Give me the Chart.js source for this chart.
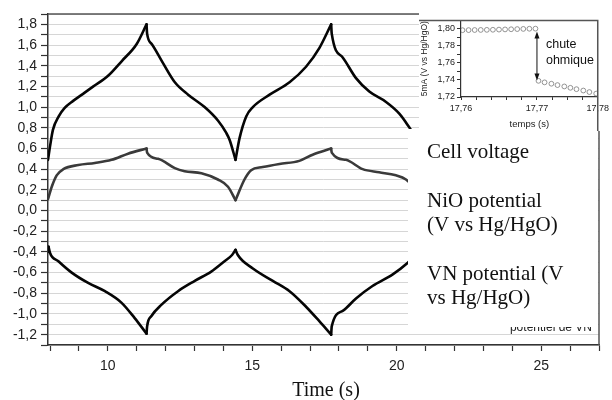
<!DOCTYPE html>
<html>
<head>
<meta charset="utf-8">
<script src="https://cdn.jsdelivr.net/npm/chart.js@4.4.1/dist/chart.umd.min.js"></script>
<style>
  body { margin: 0; background: #fff; }
  #wrap { position: relative; width: 612px; height: 400px; }
  #main { position: absolute; left: 0; top: 0; }
  #inset { position: absolute; left: 419px; top: 13px; }
</style>
</head>
<body>
<div id="wrap">
  <canvas id="main" width="612" height="400"></canvas>
  <canvas id="inset" width="193" height="118"></canvas>
</div>
<script>
// Main chart data
const cellTime = [7.93, 8.00, 8.10, 8.30, 8.50, 8.80, 9.20, 9.50, 10.00, 10.50, 11.00, 11.34,
    11.36, 11.52, 11.86, 12.32, 12.78, 13.35, 13.81, 14.10, 14.22, 14.42,
    14.56, 14.79, 15.02, 15.60, 16.29, 16.86, 17.32, 17.73,
    17.75, 18.13, 18.59, 19.05, 19.63, 20.08, 20.37, 20.60, 20.81];
const cellVoltage = [0.49, 0.62, 0.78, 0.91, 0.99, 1.06, 1.14, 1.20, 1.30, 1.45, 1.61, 1.80,
    1.71, 1.61, 1.45, 1.24, 1.12, 1.00, 0.87, 0.75, 0.68, 0.49,
    0.70, 0.91, 1.00, 1.12, 1.24, 1.39, 1.57, 1.80,
    1.71, 1.48, 1.28, 1.15, 1.05, 0.94, 0.83, 0.72, 0.49];

const nioTime = [7.93, 8.06, 8.23, 8.46, 8.98, 9.55, 10.13, 10.70, 11.34,
    11.36, 11.74, 12.32, 12.66, 13.24, 13.81, 14.16, 14.42,
    14.73, 14.96, 15.36, 15.94, 16.63, 17.09, 17.73,
    17.75, 18.24, 18.82, 19.39, 19.97, 20.32, 20.60, 20.81];
const nioPotential = [0.11, 0.23, 0.34, 0.40, 0.44, 0.46, 0.49, 0.55, 0.60,
    0.56, 0.50, 0.41, 0.38, 0.36, 0.30, 0.23, 0.10,
    0.30, 0.39, 0.42, 0.45, 0.48, 0.54, 0.60,
    0.56, 0.49, 0.40, 0.37, 0.34, 0.30, 0.22, 0.10];

const vnTime = [7.93, 7.95, 8.00, 8.29, 8.75, 9.32, 9.90, 10.47, 10.93, 11.34,
    11.36, 11.51, 11.86, 12.43, 13.01, 13.58, 14.04, 14.30, 14.42,
    14.50, 15.02, 15.71, 16.29, 16.86, 17.32, 17.73,
    17.75, 18.13, 18.59, 19.16, 19.85, 20.32, 20.81];
const vnPotential = [-0.40, -0.35, -0.41, -0.49, -0.60, -0.70, -0.78, -0.89, -1.04, -1.19,
    -1.12, -1.02, -0.91, -0.78, -0.68, -0.59, -0.49, -0.43, -0.38,
    -0.43, -0.56, -0.68, -0.78, -0.93, -1.07, -1.20,
    -1.12, -0.97, -0.85, -0.73, -0.62, -0.52, -0.38];

const xTickValues = [8, 9, 10, 11, 12, 13, 14, 15, 16, 17, 18, 19, 20, 21, 22, 23, 24, 25, 26, 27];

const legendLines = [
    ['Cell voltage', 158],
    ['NiO potential', 207],
    ['(V vs Hg/HgO)', 231],
    ['VN potential (V', 280],
    ['vs Hg/HgO)', 304]
];

// Inset data
const insetTime = [17.7602, 17.7610, 17.7618, 17.7626, 17.7634, 17.7642, 17.7650, 17.7658,
    17.7666, 17.7674, 17.7682, 17.7690, 17.7698,
    17.7702, 17.7710, 17.7719, 17.7727, 17.7736, 17.7744, 17.7752, 17.7761, 17.7769, 17.7778];
const insetPotential = [1.7985, 1.7986, 1.7987, 1.7988, 1.7989, 1.7990, 1.7992, 1.7994,
    1.7996, 1.7998, 1.8000, 1.8002, 1.8003,
    1.7390, 1.7372, 1.7356, 1.7340, 1.7324, 1.7308, 1.7292, 1.7276, 1.7258, 1.7240];
const insetXTicks = [17.76, 17.762, 17.764, 17.766, 17.768, 17.77, 17.772, 17.774, 17.776, 17.778];
const insetXLabels = ['17,76', '', '', '', '', '17,77', '', '', '', '17,78'];
const insetYTicks = [1.72, 1.73, 1.74, 1.75, 1.76, 1.77, 1.78, 1.79, 1.80];
const insetYLabels = ['1,72', '', '1,74', '', '1,76', '', '1,78', '', '1,80'];

Chart.defaults.font.family = '"Liberation Sans", Arial, sans-serif';

function pts(xs, ys) {
    return xs.map((x, i) => ({ x: x, y: ys[i] }));
}

// cut a series into monotonic runs so the cusps at charge/discharge switches stay sharp
function runs(xs, ys) {
    const out = [];
    let cur = [{ x: xs[0], y: ys[0] }];
    let dir = 0;
    for (let i = 1; i < xs.length; i++) {
        const d = Math.sign(ys[i] - ys[i - 1]);
        if (dir !== 0 && d !== 0 && d !== dir) {
            out.push(cur);
            cur = [{ x: xs[i - 1], y: ys[i - 1] }];
        }
        if (d !== 0) dir = d;
        cur.push({ x: xs[i], y: ys[i] });
    }
    out.push(cur);
    return out;
}

const lineStyle = {
    pointRadius: 0, borderWidth: 2.6, fill: false,
    cubicInterpolationMode: 'monotone', borderCapStyle: 'round', borderJoinStyle: 'round'
};

function seriesDatasets(label, xs, ys, color) {
    return runs(xs, ys).map(r => ({ label: label, data: r, borderColor: color, ...lineStyle }));
}

const mainDecor = {
    id: 'mainDecor',
    afterDraw(chart) {
        const ctx = chart.ctx;
        const a = chart.chartArea;
        ctx.save();
        // old label peeking out below the white legend box
        ctx.fillStyle = '#222';
        ctx.font = '12px "Liberation Sans", Arial';
        ctx.textAlign = 'right';
        ctx.textBaseline = 'alphabetic';
        ctx.fillText('potentiel de VN', 592, 331);
        ctx.fillStyle = '#fff';
        ctx.fillRect(408, 129, 190, 198);

        ctx.fillStyle = '#111';
        ctx.font = '21px "Liberation Serif", "Times New Roman", serif';
        ctx.textAlign = 'left';
        legendLines.forEach(l => ctx.fillText(l[0], 427, l[1]));

        // top and right frame
        ctx.strokeStyle = '#555';
        ctx.lineWidth = 1.5;
        ctx.beginPath();
        ctx.moveTo(a.left, a.top);
        ctx.lineTo(a.right, a.top);
        ctx.lineTo(a.right, a.bottom);
        ctx.stroke();

        ctx.fillStyle = '#111';
        ctx.font = '20px "Liberation Serif", "Times New Roman", serif';
        ctx.textAlign = 'center';
        ctx.fillText('Time (s)', 326, 396);
        ctx.restore();
    }
};

new Chart(document.getElementById('main'), {
    type: 'line',
    data: {
        datasets: [
            ...seriesDatasets('Cell voltage', cellTime, cellVoltage, '#050505'),
            ...seriesDatasets('NiO potential', nioTime, nioPotential, '#3a3a3a'),
            ...seriesDatasets('VN potential', vnTime, vnPotential, '#050505')
        ]
    },
    options: {
        responsive: false,
        animation: false,
        devicePixelRatio: 1,
        layout: { padding: { top: 14, right: 13, left: 0, bottom: 0 } },
        plugins: { legend: { display: false }, tooltip: { enabled: false } },
        scales: {
            x: {
                type: 'linear',
                min: 7.93,
                max: 27,
                afterFit: s => { s.height = 55; },
                afterBuildTicks: s => { s.ticks = xTickValues.map(v => ({ value: v })); },
                grid: { drawOnChartArea: false, tickLength: 6, tickColor: '#333', tickWidth: 1.2 },
                border: { color: '#333', width: 1.5 },
                ticks: {
                    autoSkip: false, maxRotation: 0, padding: 7, color: '#222',
                    font: { size: 14 },
                    callback: v => (v % 5 === 0 ? String(v) : '')
                }
            },
            y: {
                min: -1.3,
                max: 1.9,
                afterFit: s => { s.width = 48; },
                grid: { color: '#d6d6d6', lineWidth: 1, tickLength: 7, tickColor: '#333', tickWidth: 1.2 },
                border: { color: '#333', width: 1.5 },
                ticks: {
                    stepSize: 0.1, autoSkip: false, padding: 4, color: '#222',
                    font: { size: 14 },
                    callback: v => {
                        const n = Math.round(v * 10);
                        if (n % 2 !== 0) return '';
                        return (n / 10).toFixed(1).replace('.', ',');
                    }
                }
            }
        }
    },
    plugins: [mainDecor]
});

const insetDecor = {
    id: 'insetDecor',
    beforeDraw(chart) {
        const ctx = chart.ctx;
        ctx.save();
        ctx.fillStyle = '#fff';
        ctx.fillRect(0, 0, chart.width, chart.height);
        ctx.restore();
    },
    afterDraw(chart) {
        const ctx = chart.ctx;
        const a = chart.chartArea;
        const xs = chart.scales.x, ys = chart.scales.y;
        ctx.save();
        ctx.strokeStyle = '#555';
        ctx.lineWidth = 1.5;
        ctx.beginPath();
        ctx.moveTo(0, a.top);
        ctx.lineTo(a.right, a.top);
        ctx.lineTo(a.right, chart.height);
        ctx.stroke();

        // double arrow for the ohmic drop
        const ax = xs.getPixelForValue(17.770);
        const y1 = ys.getPixelForValue(1.797);
        const y2 = ys.getPixelForValue(1.7395);
        ctx.strokeStyle = '#111';
        ctx.fillStyle = '#111';
        ctx.lineWidth = 1;
        ctx.beginPath();
        ctx.moveTo(ax, y1 + 5);
        ctx.lineTo(ax, y2 - 5);
        ctx.stroke();
        ctx.beginPath();
        ctx.moveTo(ax, y1); ctx.lineTo(ax - 2.5, y1 + 7); ctx.lineTo(ax + 2.5, y1 + 7); ctx.closePath();
        ctx.fill();
        ctx.beginPath();
        ctx.moveTo(ax, y2); ctx.lineTo(ax - 2.5, y2 - 7); ctx.lineTo(ax + 2.5, y2 - 7); ctx.closePath();
        ctx.fill();

        ctx.font = '12.5px "Liberation Sans", Arial';
        ctx.textAlign = 'left';
        ctx.textBaseline = 'alphabetic';
        ctx.fillText('chute', ax + 9, 35);
        ctx.fillText('ohmique', ax + 9, 50.5);
        ctx.restore();
    }
};

new Chart(document.getElementById('inset'), {
    type: 'scatter',
    data: {
        datasets: [{
            data: pts(insetTime, insetPotential),
            pointStyle: 'circle',
            pointRadius: 2.4,
            pointBorderColor: '#7a7a7a',
            pointBackgroundColor: 'rgba(0,0,0,0)',
            pointBorderWidth: 0.8,
            showLine: false
        }]
    },
    options: {
        responsive: false,
        animation: false,
        devicePixelRatio: 1,
        layout: { padding: { top: 1, right: 13, left: 0, bottom: 0 } },
        plugins: { legend: { display: false }, tooltip: { enabled: false } },
        scales: {
            x: {
                type: 'linear',
                min: 17.76,
                max: 17.778,
                afterFit: s => { s.height = 34; },
                afterBuildTicks: s => { s.ticks = insetXTicks.map(v => ({ value: v })); },
                grid: { drawOnChartArea: false, tickLength: 3, tickColor: '#333' },
                border: { color: '#333', width: 1.2 },
                ticks: {
                    autoSkip: false, maxRotation: 0, padding: 3, color: '#222',
                    font: { size: 9 },
                    callback: (v, i) => insetXLabels[i]
                },
                title: { display: true, text: 'temps (s)', color: '#222', font: { size: 9.5 }, padding: { top: 0, bottom: 1 } }
            },
            y: {
                min: 1.72,
                max: 1.81,
                afterFit: s => { s.width = 42; },
                afterBuildTicks: s => { s.ticks = insetYTicks.map(v => ({ value: v })); },
                grid: { drawOnChartArea: false, tickLength: 4, tickColor: '#333' },
                border: { color: '#333', width: 1.2 },
                ticks: {
                    autoSkip: false, padding: 2, color: '#222',
                    font: { size: 9 },
                    callback: (v, i) => insetYLabels[i]
                },
                title: { display: true, text: '5mA (V vs Hg/HgO)', color: '#222', font: { size: 8.5 }, padding: { top: 1, bottom: 0 } }
            }
        }
    },
    plugins: [insetDecor]
});
</script>
</body>
</html>
